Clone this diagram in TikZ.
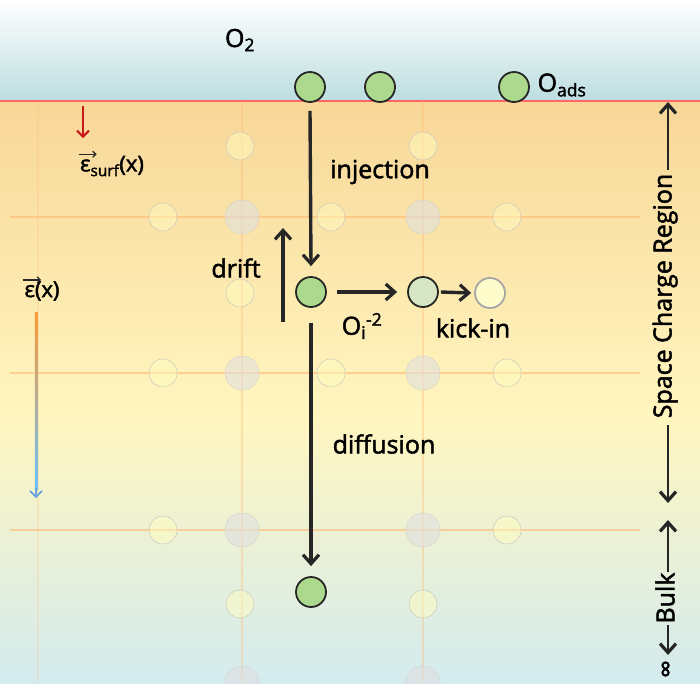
\documentclass[tikz,border=0pt]{standalone}
\usepackage{fontspec}
\setmainfont{Open Sans}[FakeBold=2,AutoFakeBold=2]
\usetikzlibrary{arrows.meta}
\definecolor{topA}{HTML}{F8D798}
\definecolor{midA}{HTML}{FFF6C0}
\definecolor{botA}{HTML}{D4EBEF}
\definecolor{skyA}{HTML}{BCDDE0}
\begin{document}
\begin{tikzpicture}[x=1pt,y=-1pt,
  lbl/.style={font=\fontsize{25}{27}\selectfont\bfseries},
  grid/.style={draw=orange!55!white,opacity=0.6,line width=1.5pt},
  vac/.style={circle,minimum size=28pt,inner sep=0pt,draw=black!25,fill=yellow!25,fill opacity=0.5},
  big/.style={circle,minimum size=34pt,inner sep=0pt,draw=black!20,fill=black!12,fill opacity=0.6,draw opacity=0.8},
  ox/.style={circle,minimum size=30pt,inner sep=0pt,draw=black!85,line width=1.8pt,fill=green!45!lime!35!white!85!black},
  arr/.style={-{Straight Barb[length=9pt,width=16pt,line width=3.2pt]},line width=3.4pt,black!85},
  vec/.style={-{Straight Barb[length=3pt,width=6pt,line width=1.2pt]},line width=1.4pt,black!85}]
\useasboundingbox (0,0) rectangle (700,683);
\shade[top color=white,bottom color=skyA] (0,0) rectangle (700,101);
\shade[top color=topA,bottom color=midA] (0,101) rectangle (700,420);
\shade[top color=midA,bottom color=botA] (0,420) rectangle (700,683);
\draw[red!60,line width=1.5pt] (0,101) -- (700,101);
% grid
\draw[grid] (10,217) -- (640,217);
\draw[grid] (10,373) -- (640,373);
\draw[grid] (10,530) -- (640,530);
\draw[grid,opacity=0.35] (242,101) -- (242,683);
\draw[grid,opacity=0.35] (423,101) -- (423,683);
\draw[grid,opacity=0.2] (38,101) -- (38,683);
% lattice
\foreach \x/\y [count=\i] in {242/217,423/217,242/373,423/373,242/530,423/530,242/683,423/683}
  \node[big] (b\i) at (\x,\y) {};
\foreach \x/\y [count=\i] in {240/146,423/146,163/217,331/217,507/217,240/293,163/373,331/373,507/373,163/530,507/530,240/604,423/604}
  \node[vac] (v\i) at (\x,\y) {};
% oxygen
\node[ox] (s1) at (310,87) {};
\node[ox] (s2) at (380,87) {};
\node[ox] (s3) at (514,87) {};
\node[ox] (oi) at (311,292) {};
\node[ox,fill=green!25!lime!15!white!90!black] (ok) at (423,292) {};
\node[circle,minimum size=30pt,inner sep=0pt,draw=black!35,line width=1.8pt,fill=yellow!20] (oy) at (490,293) {};
\node[ox] (ob) at (311,592) {};
% arrows
\coordinate (dA) at (283,322); \coordinate (dB) at (283,228);
\draw[arr] ([yshift=-8pt]s1.south) -- ([yshift=10pt]oi.north);
\draw[arr] (dA) -- (dB);
\draw[arr] ([xshift=10pt]oi.east) -- ([xshift=-10pt]ok.west);
\draw[arr] ([xshift=2pt]ok.east) -- ([xshift=-3pt]oy.west);
\draw[arr] ([yshift=-15pt]oi.south) -- ([yshift=10pt]ob.north);
% labels
\node[lbl] (tO2) at (240,40) {O\textsubscript{2}};
\node[lbl] (tOads) at (562,85) {O\textsubscript{ads}};
\node[lbl] (tinj) at (380,172) {injection};
\node[lbl] (tdrift) at (236,268) {drift};
\node[lbl] (toi) at (362,326) {O\textsubscript{i}\textsuperscript{-2}};
\node[lbl] (tkick) at (473,328) {kick-in};
\node[lbl] (tdiff) at (384,444) {diffusion};
% fields
\coordinate (rA) at (83,106); \coordinate (rB) at (83,138);
\draw[-{Straight Barb[length=6pt,width=12pt,line width=2pt]},red!75!black!90,line width=2pt] (rA) -- (rB);
\node[lbl,font=\fontsize{22}{24}\selectfont\bfseries] (tes) at (112,166) {ε\textsubscript{surf}(x)};
\node[lbl,font=\fontsize{22}{24}\selectfont\bfseries] (te) at (42,291) {ε(x)};
\draw[vec] ([xshift=2pt,yshift=-2pt]tes.north west) -- ([xshift=20pt,yshift=-2pt]tes.north west);
\draw[vec] ([xshift=2pt,yshift=-2pt]te.north west) -- ([xshift=20pt,yshift=-2pt]te.north west);
\coordinate (gA) at (36,312); \coordinate (gB) at (36,498);
\shade[top color=orange!80,bottom color=cyan!60!blue!60] (34.8,312) rectangle (37.4,490);
\draw[-{Straight Barb[length=6pt,width=12pt,line width=1.6pt]},cyan!60!blue!60,line width=1.6pt] (36,488) -- (gB);
% right side
\node[lbl,rotate=90] (tscr) at (665,296) {Space Charge Region};
\node[lbl,rotate=90] (tbulk) at (665,598) {Bulk};
\coordinate (a1) at (668,170); \coordinate (a2) at (668,102);
\coordinate (a3) at (668,425); \coordinate (a4) at (668,503);
\coordinate (a5) at (668,572); \coordinate (a6) at (668,520);
\coordinate (a7) at (668,625); \coordinate (a8) at (668,655);
\draw[arr,line width=2.6pt] (a1) -- (a2);
\draw[arr,line width=2.6pt] (a3) -- (a4);
\draw[arr,line width=2.6pt] (a5) -- (a6);
\draw[arr,line width=2.6pt] (a7) -- (a8);
\node[lbl,rotate=90] (tinf) at (668,669) {∞};
\end{tikzpicture}
\end{document}
